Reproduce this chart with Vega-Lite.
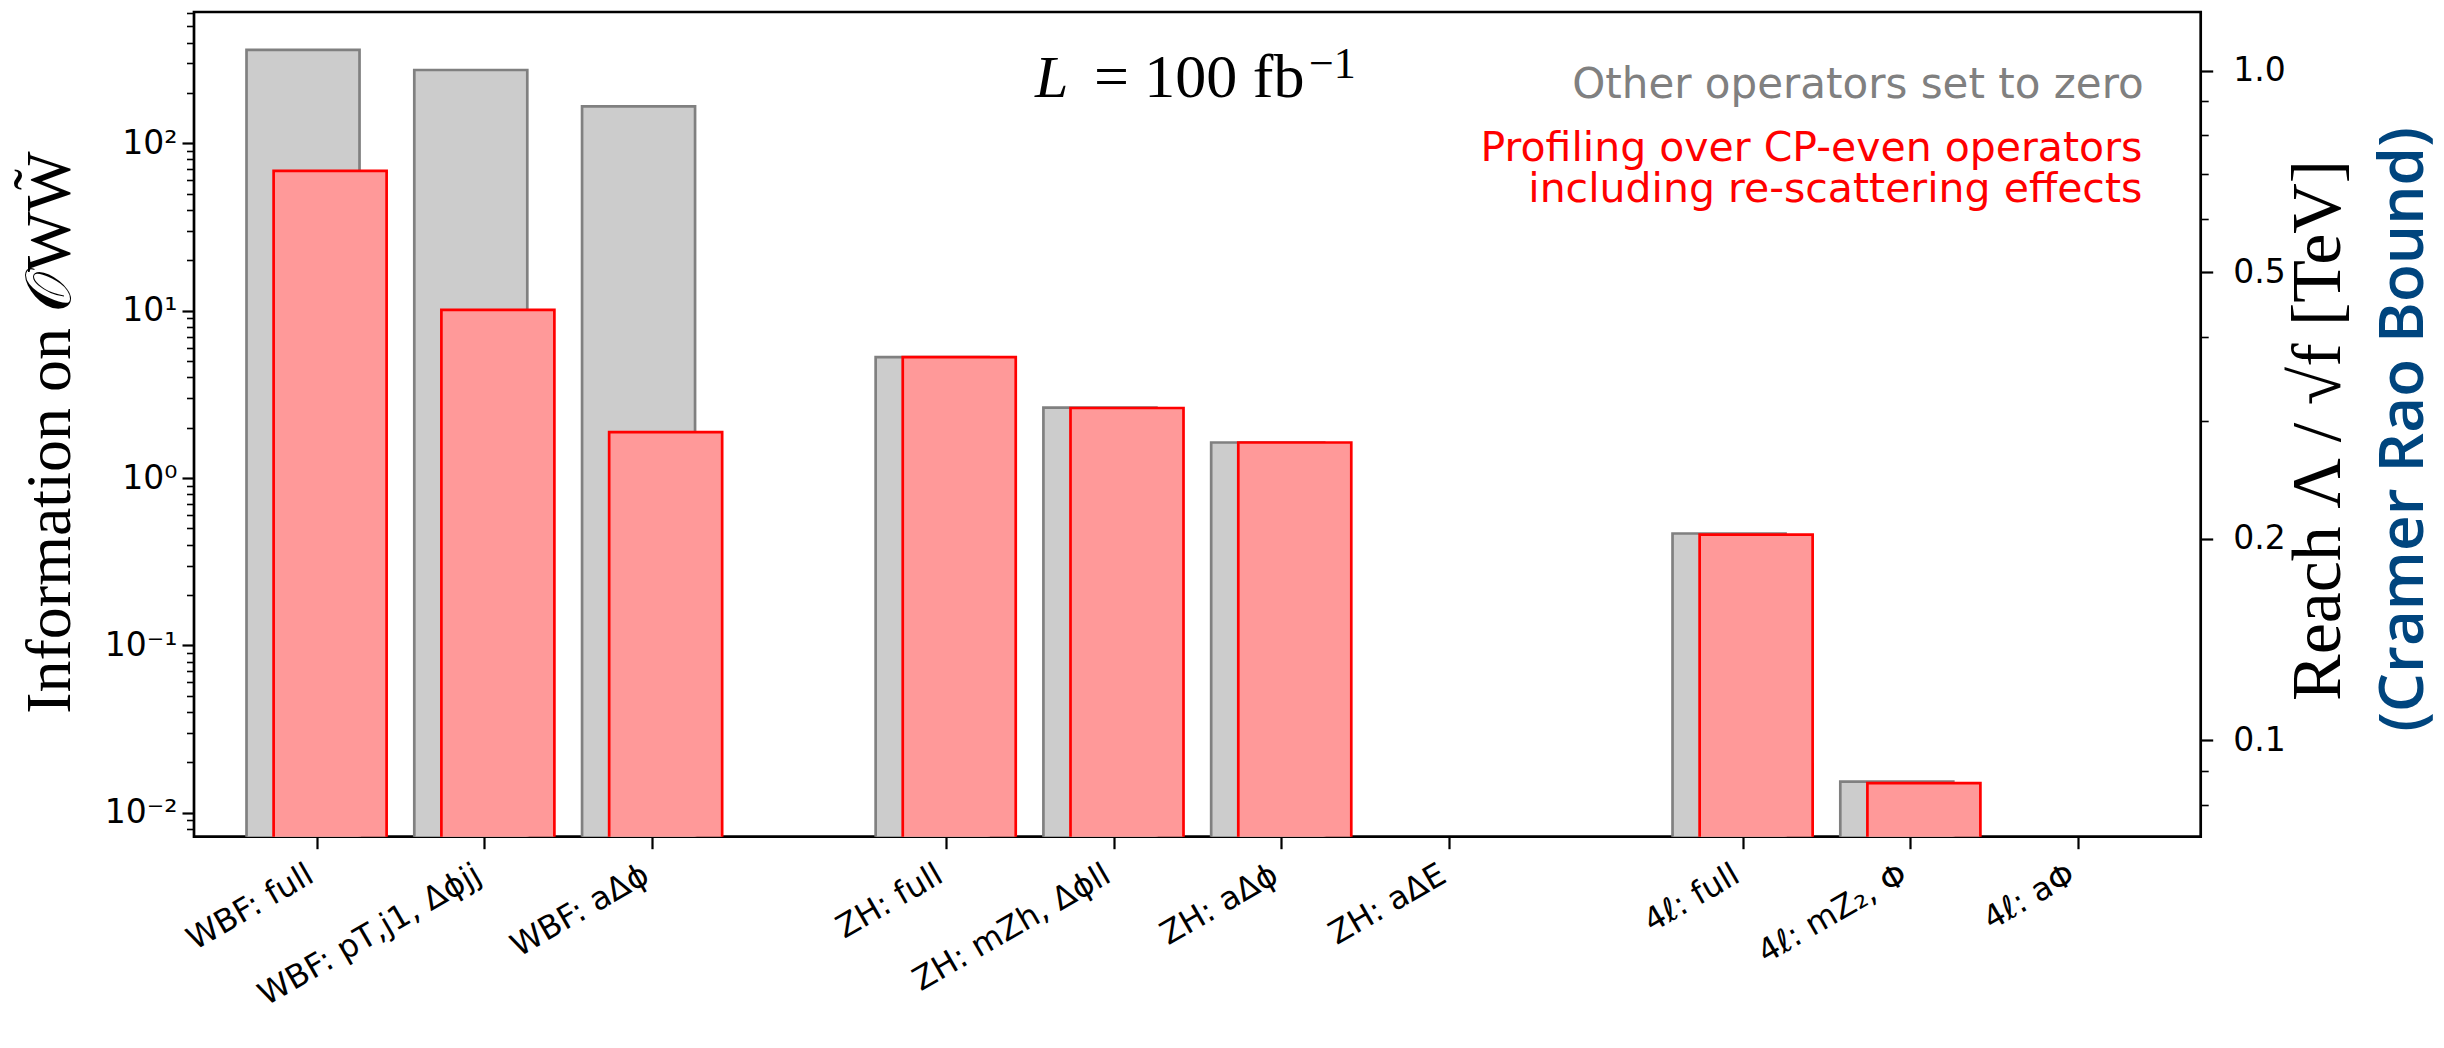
{
  "$schema": "https://vega.github.io/schema/vega-lite/v6.json",
  "width": 2006.7,
  "height": 824.7,
  "autosize": {"type": "none"},
  "padding": {"left": 194, "top": 12, "right": 243.3, "bottom": 211.3},
  "background": "white",
  "config": {
    "view": {"stroke": "black", "strokeWidth": 2.7},
    "axis": {"grid": false, "domain": false, "tickColor": "black", "labelColor": "black", "titleColor": "black", "labelOverlap": false, "labelFlush": false, "labelFont": "DejaVu Sans", "labelFontSize": 33, "labelLimit": 1000, "titleLimit": 3000}
  },
  "data": {
    "values": [
      {"label": "WBF: full", "pos": 0, "other_zero": 361, "profiled": 68.5},
      {"label": "WBF: pT,j1, Δϕjj", "pos": 1, "other_zero": 274, "profiled": 10.1},
      {"label": "WBF: aΔϕ", "pos": 2, "other_zero": 166, "profiled": 1.88},
      {"label": "ZH: full", "pos": 3.75, "other_zero": 5.27, "profiled": 5.27},
      {"label": "ZH: mZh, Δϕll", "pos": 4.75, "other_zero": 2.63, "profiled": 2.62},
      {"label": "ZH: aΔϕ", "pos": 5.75, "other_zero": 1.63, "profiled": 1.63},
      {"label": "ZH: aΔE", "pos": 6.75, "other_zero": null, "profiled": null},
      {"label": "4ℓ: full", "pos": 8.5, "other_zero": 0.466, "profiled": 0.459},
      {"label": "4ℓ: mZ₂, Φ", "pos": 9.5, "other_zero": 0.01536, "profiled": 0.01503},
      {"label": "4ℓ: aΦ", "pos": 10.5, "other_zero": null, "profiled": null}
    ]
  },
  "layer": [
    {
      "mark": {"type": "bar", "size": 113, "xOffset": -13.7, "fill": "#cccccc", "stroke": "#808080", "strokeWidth": 2.7, "clip": true},
      "encoding": {
        "x": {"field": "pos", "type": "quantitative", "scale": {"domain": [-0.7017, 11.2], "nice": false, "zero": false},
          "axis": {"values": [0, 1, 2, 3.75, 4.75, 5.75, 6.75, 8.5, 9.5, 10.5], "title": null, "tickSize": 12, "tickWidth": 2.2, "labelAngle": -30, "labelAlign": "right", "labelBaseline": "top", "labelPadding": 10, "labelOffset": -14, "labelFontSize": 32,
            "labelExpr": "['WBF: full','WBF: pT,j1, Δϕjj','WBF: aΔϕ','ZH: full','ZH: mZh, Δϕll','ZH: aΔϕ','ZH: aΔE','4ℓ: full','4ℓ: mZ₂, Φ','4ℓ: aΦ'][indexof([0,1,2,3.75,4.75,5.75,6.75,8.5,9.5,10.5], datum.value)]"}},
        "y": {"field": "other_zero", "type": "quantitative", "scale": {"type": "log", "domain": [0.00719, 608.7], "nice": false},
          "axis": {"values": [0.01, 0.1, 1, 10, 100], "tickSize": 12, "tickWidth": 2.2, "labelPadding": 5,
            "labelExpr": "datum.value >= 99 ? '10²' : datum.value >= 9 ? '10¹' : datum.value >= 0.9 ? '10⁰' : datum.value >= 0.09 ? '10⁻¹' : '10⁻²'",
            "title": "Information on 𝒪WW̃", "titleFont": "Liberation Serif", "titleFontSize": 64, "titleFontWeight": "normal", "titleAngle": 270, "titleBaseline": "alphabetic", "titleAlign": "center", "titleX": -125, "titleY": 420}},
        "y2": {"datum": 0.001}
      }
    },
    {
      "mark": {"type": "bar", "size": 113, "xOffset": 13.4, "fill": "#ff9999", "stroke": "#ff0000", "strokeWidth": 2.7, "clip": true},
      "encoding": {
        "x": {"field": "pos", "type": "quantitative", "scale": {"domain": [-0.7017, 11.2], "nice": false, "zero": false}},
        "y": {"field": "profiled", "type": "quantitative", "scale": {"type": "log", "domain": [0.00719, 608.7], "nice": false}, "axis": null},
        "y2": {"datum": 0.001}
      }
    },
    {
      "data": {"values": [{"note": "L"}]},
      "mark": {"type": "text", "font": "Liberation Serif", "fontStyle": "italic", "fontSize": 60, "align": "right", "baseline": "alphabetic", "color": "black"},
      "encoding": {
        "x": {"datum": 4.48, "type": "quantitative", "scale": {"domain": [-0.7017, 11.2], "nice": false, "zero": false}},
        "y": {"datum": 189, "type": "quantitative", "scale": {"type": "log", "domain": [0.00719, 608.7], "nice": false}, "axis": null},
        "text": {"field": "note"}
      }
    },
    {
      "data": {"values": [{"note": "= 100 fb"}]},
      "mark": {"type": "text", "font": "Liberation Serif", "fontSize": 62, "align": "right", "baseline": "alphabetic", "color": "black"},
      "encoding": {
        "x": {"datum": 5.888, "type": "quantitative", "scale": {"domain": [-0.7017, 11.2], "nice": false, "zero": false}},
        "y": {"datum": 189, "type": "quantitative", "scale": {"type": "log", "domain": [0.00719, 608.7], "nice": false}, "axis": null},
        "text": {"field": "note"}
      }
    },
    {
      "data": {"values": [{"note": "−1"}]},
      "mark": {"type": "text", "font": "Liberation Serif", "fontSize": 44, "align": "left", "baseline": "alphabetic", "color": "black"},
      "encoding": {
        "x": {"datum": 5.915, "type": "quantitative", "scale": {"domain": [-0.7017, 11.2], "nice": false, "zero": false}},
        "y": {"datum": 245.6, "type": "quantitative", "scale": {"type": "log", "domain": [0.00719, 608.7], "nice": false}, "axis": null},
        "text": {"field": "note"}
      }
    },
    {
      "data": {"values": [{"note": "Other operators set to zero"}]},
      "mark": {"type": "text", "font": "DejaVu Sans", "fontSize": 42, "align": "right", "baseline": "alphabetic", "color": "#808080"},
      "encoding": {
        "x": {"datum": 10.89, "type": "quantitative", "scale": {"domain": [-0.7017, 11.2], "nice": false, "zero": false}},
        "y": {"datum": 186.5, "type": "quantitative", "scale": {"type": "log", "domain": [0.00719, 608.7], "nice": false}, "axis": null},
        "text": {"field": "note"}
      }
    },
    {
      "data": {"values": [{"note": ["Profiling over CP-even operators", "including re-scattering effects"]}]},
      "mark": {"type": "text", "font": "DejaVu Sans", "fontSize": 41, "lineHeight": 41, "align": "right", "baseline": "alphabetic", "color": "#ff0000"},
      "encoding": {
        "x": {"datum": 10.882, "type": "quantitative", "scale": {"domain": [-0.7017, 11.2], "nice": false, "zero": false}},
        "y": {"datum": 78.4, "type": "quantitative", "scale": {"type": "log", "domain": [0.00719, 608.7], "nice": false}, "axis": null},
        "text": {"field": "note"}
      }
    },
    {
      "data": {"values": [{}]},
      "mark": {"type": "rule", "opacity": 0},
      "encoding": {
        "y": {"datum": 1, "type": "quantitative", "scale": {"type": "log", "domain": [0.00719, 608.7], "nice": false},
          "axis": {"orient": "left", "values": [0.008, 0.009, 0.02, 0.03, 0.04, 0.05, 0.06, 0.07, 0.08, 0.09, 0.2, 0.3, 0.4, 0.5, 0.6, 0.7, 0.8, 0.9, 2, 3, 4, 5, 6, 7, 8, 9, 20, 30, 40, 50, 60, 70, 80, 90, 200, 300, 400, 500, 600], "labels": false, "tickSize": 7.5, "tickWidth": 1.6, "title": null}}
      }
    },
    {
      "data": {"values": [{}]},
      "mark": {"type": "rule", "opacity": 0},
      "encoding": {
        "y": {"datum": 0.5, "type": "quantitative", "scale": {"type": "log", "domain": [0.07172, 1.2233], "nice": false},
          "axis": {"orient": "right", "values": [0.1, 0.2, 0.5, 1.0], "format": ".1f", "tickSize": 12, "tickWidth": 2.2, "labelPadding": 20,
            "title": "Reach Λ / √f  [TeV]", "titleFont": "Liberation Serif", "titleFontSize": 70, "titleFontWeight": "normal", "titleAngle": 270, "titleBaseline": "alphabetic", "titleAlign": "center", "titleX": 139, "titleY": 418}}
      }
    },
    {
      "data": {"values": [{}]},
      "mark": {"type": "rule", "opacity": 0},
      "encoding": {
        "y": {"datum": 0.5, "type": "quantitative", "scale": {"type": "log", "domain": [0.07172, 1.2233], "nice": false},
          "axis": {"orient": "right", "values": [0.08, 0.09, 0.3, 0.4, 0.6, 0.7, 0.8, 0.9], "labels": false, "tickSize": 7.5, "tickWidth": 1.6, "title": null}}
      }
    },
    {
      "data": {"values": [{}]},
      "mark": {"type": "rule", "opacity": 0},
      "encoding": {
        "y": {"datum": 0.5, "type": "quantitative", "scale": {"type": "log", "domain": [0.07172, 1.2233], "nice": false},
          "axis": {"orient": "right", "values": [], "labels": false, "ticks": false,
            "title": "(Cramer Rao Bound)", "titleColor": "#00457e", "titleFont": "Open Sans", "titleFontSize": 62, "titleFontWeight": 600, "titleAngle": 270, "titleBaseline": "alphabetic", "titleAlign": "center", "titleX": 222, "titleY": 417}}
      }
    }
  ],
  "resolve": {"scale": {"y": "independent"}, "axis": {"y": "independent"}}
}
